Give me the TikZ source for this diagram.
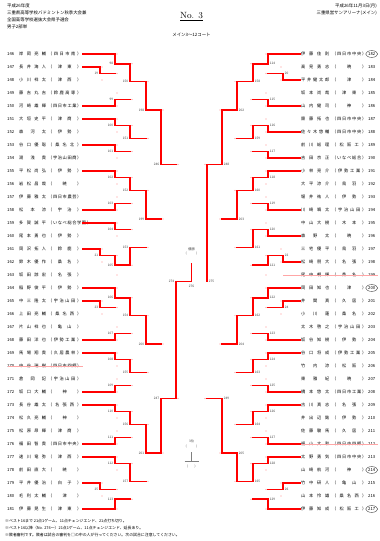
\documentclass[tikz,border=0pt]{standalone}
\usepackage{fontspec}
\newfontfamily\jp{Noto Sans CJK JP}
\usetikzlibrary{calc}
\pgfdeclarelayer{bg}
\pgfsetlayers{bg,main}
\def\cx{191.5}
\def\dP{91.5}\def\dA{76.5}\def\dB{61.5}\def\dC{45.5}\def\dD{30.5}\def\dE{15.5}
\def\Y#1{(54+13*#1)}
\tikzset{
  gl/.style={draw=black!50, line width=0.9pt},
  rl/.style={draw=red, line width=1.6pt, line cap=rect},
  pk/.style={fill=red!45},
  lab/.style={font=\jp\fontsize{3.2}{3.4}\selectfont, text=black!75, inner sep=0.3pt},
  tx/.style={font=\jp\fontsize{4.2}{5}\selectfont, inner sep=0pt},
  hd/.style={font=\jp\fontsize{4.4}{5}\selectfont, inner sep=0pt},
}
% match: #1 side, #2 d vertical, #3 d next, #4 y1, #5 y2, #6 winner, #7 label, #8 name
\newcommand\mt[8]{%
  \pgfmathsetmacro\qX{\cx+(#1)*(#2)}%
  \pgfmathsetmacro\qN{\cx+(#1)*(#3)}%
  \pgfmathsetmacro\qA{#4}%
  \pgfmathsetmacro\qB{#5}%
  \pgfmathsetmacro\qM{(\qA+\qB)/2}%
  \expandafter\xdef\csname m#8\endcsname{\qM}%
  \begin{pgfonlayer}{bg}\draw[gl] (\qX,\qA) -- (\qX,\qB);\end{pgfonlayer}
  \ifnum#6=1 \edef\qW{\qA}\else\edef\qW{\qB}\fi
  \draw[rl] (\qX,\qW) -- (\qX,\qM) -- (\qN,\qM);
  \ifnum#1<0 \def\qAnc{east}\else\def\qAnc{west}\fi
  \node[lab,anchor=\qAnc] (n#8) at ({\qX+(#1)*1.4},\qM) {#7};
  \fill[pk] ({\qX-(#1)*2},\qA) circle (0.6);
  \fill[pk] ({\qX-(#1)*2},\qB) circle (0.6);
}
% player line: #1 side, #2 k, #3 d first, #4 win
\newcommand\pl[4]{%
  \pgfmathsetmacro\qY{54+13*#2}%
  \pgfmathsetmacro\qS{\cx+(#1)*108.5}%
  \pgfmathsetmacro\qE{\cx+(#1)*(#3)}%
  \ifnum#4=1 \draw[rl] (\qS,\qY) -- (\qE,\qY);\else
  \begin{pgfonlayer}{bg}\draw[gl] (\qS,\qY) -- (\qE,\qY);\end{pgfonlayer}\fi
}
\newcommand\rL[4]{%
  \pgfmathsetmacro\qY{54+13*#1}%
  \node[tx,anchor=west] (pl#2) at (7,\qY) {#2};
  \node[tx,anchor=west] at (19,\qY) {\makebox[27pt][s]{#3}};
  \node[tx,anchor=west] at (48,\qY) {\makebox[33pt][s]{（ #4 ）}};
}
\newcommand\rR[4]{%
  \pgfmathsetmacro\qY{54+13*#1}%
  \node[tx,anchor=west] at (301,\qY) {\makebox[28pt][s]{#3}};
  \node[tx,anchor=west] at (332,\qY) {\makebox[34pt][s]{（ #4 ）}};
  \node[tx,anchor=west] (pr#2) at (368,\qY) {#2};
}
\begin{document}
\begin{tikzpicture}[x=1pt,y=-1pt]
\useasboundingbox (0,0) rectangle (380,541);
\fill[white] (0,0) rectangle (380,541);
% header
\node[hd,anchor=west] at (7,6) {平成26年度};
\node[hd,anchor=west] at (7,13) {三重県高等学校バドミントン秋季大会兼};
\node[hd,anchor=west] at (7,20) {全国高等学校選抜大会県予選会};
\node[hd,anchor=west] at (7,27) {男子2部単};
\node[hd,anchor=east] at (377,6) {平成26年11月3日(月)};
\node[hd,anchor=east] at (377,13) {三重県営サンアリーナ(メイン)};
\node[inner sep=0pt,font=\fontsize{9}{10}\selectfont] (title) at (191.5,17) {\underline{No. 3}};
\node[hd] at (191.5,35) {メイン3〜12コート};
% left rows
\rL{0}{146}{岸 岡 亮 輔}{四 日 市 南}
\rL{1}{147}{長 井 海 人}{津 東}
\rL{2}{148}{小 川 祥 太}{津 西}
\rL{3}{149}{藤 吉 丸 吉}{鈴 鹿 高 専}
\rL{4}{150}{河 崎 雄 輝}{四 日 市 工 業}
\rL{5}{151}{大 垣 史 平}{津 商}
\rL{6}{152}{森 河 太}{伊 勢}
\rL{7}{153}{谷 口 優 聡}{桑 名 北}
\rL{8}{154}{湯 浅 貴}{宇 治 山 田 商}
\rL{9}{155}{平 松 尚 弘}{伊 勢}
\rL{10}{156}{岩 松 昌 哉}{暁}
\rL{11}{157}{伊 藤 雅 太}{四 日 市 農 芸}
\rL{12}{158}{松 本 涼}{宇 治}
\rL{13}{159}{多 賀 誠 平}{い な べ 総 合 学 園}
\rL{14}{160}{尾 本 勇 也}{伊 勢}
\rL{15}{161}{岡 沢 拓 人}{鈴 鹿}
\rL{16}{162}{鈴 木 優 作}{桑 名}
\rL{17}{163}{坂 田 諒 宏}{名 張}
\rL{18}{164}{稲 野 俊 平}{伊 勢}
\rL{19}{165}{中 三 隆 太}{宇 治 山 田}
\rL{20}{166}{上 田 亮 輔}{桑 名 西}
\rL{21}{167}{片 山 祥 也}{亀 山}
\rL{22}{168}{藤 田 洋 也}{伊 勢 工 業}
\rL{23}{169}{馬 場 翔 貴}{久 居 農 林}
\rL{24}{170}{中 谷 瑞 樹}{四 日 市 四 郷}
\rL{25}{171}{倉 岡 記}{宇 治 山 田}
\rL{26}{172}{坂 口 大 輔}{神}
\rL{27}{173}{長 谷 雄 太}{名 張 西}
\rL{28}{174}{松 久 亮 輔}{神}
\rL{29}{175}{松 原 昂 輝}{津 商}
\rL{30}{176}{福 田 智 貴}{四 日 市 中 央}
\rL{31}{177}{速 川 竜 弥}{津 西}
\rL{32}{178}{前 田 直 大}{暁}
\rL{33}{179}{平 井 優 治}{白 子}
\rL{34}{180}{毛 利 太 輔}{津}
\rL{35}{181}{伊 藤 晃 生}{津 東}
% right rows
\rR{0}{182}{伊 藤 佳 則}{四 日 市 中 央}
\rR{1}{183}{高 見 勇 志}{暁}
\rR{2}{184}{平 井 健 太 郎}{津}
\rR{3}{185}{坂 本 尚 哉}{津 東}
\rR{4}{186}{山 内 健 司}{神}
\rR{5}{187}{齋 藤 拓 也}{四 日 市 中 央}
\rR{6}{188}{佐 々 木 悠 輔}{四 日 市 中 央}
\rR{7}{189}{前 川 総 理}{松 阪 工}
\rR{8}{190}{吉 田 京 正}{い な べ 総 合}
\rR{9}{191}{小 林 亮 介}{伊 勢 工 業}
\rR{10}{192}{大 平 涼 介}{鳥 羽}
\rR{11}{193}{堀 井 祐 人}{伊 勢}
\rR{12}{194}{川 崎 颯 太}{宇 治 山 田}
\rR{13}{195}{中 山 大 樹}{木 本}
\rR{14}{196}{森 野 太}{暁}
\rR{15}{197}{三 宅 優 平}{鳥 羽}
\rR{16}{198}{松 崎 朋 大}{名 張}
\rR{17}{199}{尾 中 朝 輝}{桑 名}
\rR{18}{200}{岡 田 知 也}{津}
\rR{19}{201}{井 関 真}{久 居}
\rR{20}{202}{小 川 蓮}{桑 名}
\rR{21}{203}{太 木 啓 之}{宇 治 山 田}
\rR{22}{204}{坂 谷 知 樹}{伊 勢}
\rR{23}{205}{谷 口 将 成}{伊 勢 工 業}
\rR{24}{206}{竹 内 涼}{松 阪}
\rR{25}{207}{東 雅 紀}{暁}
\rR{26}{208}{橋 本 悠 太}{四 日 市 工 業}
\rR{27}{209}{古 川 真 志}{名 張}
\rR{28}{210}{井 出 辺 銘}{伊 勢}
\rR{29}{211}{佐 藤 駿 馬}{久 居}
\rR{30}{212}{福 山 大 和}{四 日 市 四 郷}
\rR{31}{213}{太 野 勇 気}{四 日 市 中 央}
\rR{32}{214}{山 崎 航 河}{神}
\rR{33}{215}{竹 中 研 人}{亀 山}
\rR{34}{216}{山 本 怜 雄}{桑 名 西}
\rR{35}{217}{伊 藤 知 成}{松 阪 工}
% circled numbers
\foreach \n in {182,200,214,217} \draw[black!75,line width=0.4pt] ($(pr\n.center)$) ellipse (6 and 3.4);
% pink strike lines
\draw[red!35,line width=0.9pt] (8,{54+13*24}) -- (83,{54+13*24});
\draw[red!35,line width=0.9pt] (283,{54+13*17}) -- (378,{54+13*17});
\draw[red!35,line width=0.9pt] (270,{54+13*30}) -- (378,{54+13*30});
% player lines left
\foreach \k/\d/\w in {0/\dA/1,1/\dP/1,2/\dP/0,3/\dA/0,4/\dA/1,5/\dA/1,6/\dA/0,7/\dA/1,8/\dA/0,
 9/\dA/1,10/\dA/0,11/\dA/0,12/\dA/1,13/\dA/1,14/\dA/0,15/\dP/1,16/\dP/0,17/\dA/0,
 18/\dA/1,19/\dP/1,20/\dP/0,21/\dA/0,22/\dA/1,23/\dA/1,24/\dA/0,25/\dA/0,26/\dA/1,
 27/\dA/1,28/\dA/0,29/\dA/0,30/\dA/1,31/\dA/1,32/\dA/0,33/\dP/1,34/\dP/0,35/\dA/1}
 {\pl{-1}{\k}{\d}{\w}}
% player lines right
\foreach \k/\d/\w in {0/\dA/1,1/\dP/0,2/\dP/1,3/\dA/0,4/\dA/1,5/\dA/0,6/\dA/1,7/\dA/0,8/\dA/1,
 9/\dA/1,10/\dA/0,11/\dA/0,12/\dA/1,13/\dA/0,14/\dA/1,15/\dP/0,16/\dP/1,17/\dA/0,
 18/\dA/1,19/\dP/1,20/\dP/0,21/\dA/0,22/\dA/1,23/\dA/1,24/\dA/0,25/\dA/0,26/\dA/1,
 27/\dA/1,28/\dA/0,29/\dA/0,30/\dA/1,31/\dA/1,32/\dA/0,33/\dP/1,34/\dP/0,35/\dA/1}
 {\pl{1}{\k}{\d}{\w}}
% left matches
\mt{-1}{\dP}{\dA}{\Y{1}}{\Y{2}}{1}{19}{LPa}
\mt{-1}{\dA}{\dB}{\Y{0}}{\mLPa}{1}{98}{LAa}
\mt{-1}{\dA}{\dB}{\Y{3}}{\Y{4}}{2}{99}{LAb}
\mt{-1}{\dB}{\dC}{\mLAa}{\mLAb}{1}{150}{LAc}
\mt{-1}{\dA}{\dB}{\Y{5}}{\Y{6}}{1}{100}{LBa}
\mt{-1}{\dA}{\dB}{\Y{7}}{\Y{8}}{1}{101}{LBb}
\mt{-1}{\dB}{\dC}{\mLBa}{\mLBb}{1}{151}{LBc}
\mt{-1}{\dC}{\dD}{\mLAc}{\mLBc}{1}{198}{LC}
\mt{-1}{\dA}{\dB}{\Y{9}}{\Y{10}}{1}{102}{LDa}
\mt{-1}{\dA}{\dB}{\Y{11}}{\Y{12}}{2}{103}{LDb}
\mt{-1}{\dB}{\dC}{\mLDa}{\mLDb}{1}{152}{LDc}
\mt{-1}{\dA}{\dB}{\Y{13}}{\Y{14}}{1}{104}{LEa}
\mt{-1}{\dP}{\dA}{\Y{15}}{\Y{16}}{1}{21}{LPb}
\mt{-1}{\dA}{\dB}{\mLPb}{\Y{17}}{1}{105}{LEb}
\mt{-1}{\dB}{\dC}{\mLEa}{\mLEb}{2}{153}{LEc}
\mt{-1}{\dC}{\dD}{\mLDc}{\mLEc}{1}{199}{LF}
\mt{-1}{\dD}{\dE}{\mLC}{\mLF}{1}{246}{LG}
\mt{-1}{\dP}{\dA}{\Y{19}}{\Y{20}}{1}{23}{LPc}
\mt{-1}{\dA}{\dB}{\Y{18}}{\mLPc}{1}{106}{LHa}
\mt{-1}{\dA}{\dB}{\Y{21}}{\Y{22}}{2}{107}{LHb}
\mt{-1}{\dB}{\dC}{\mLHa}{\mLHb}{1}{154}{LHc}
\mt{-1}{\dA}{\dB}{\Y{23}}{\Y{24}}{1}{108}{LIa}
\mt{-1}{\dA}{\dB}{\Y{25}}{\Y{26}}{2}{109}{LIb}
\mt{-1}{\dB}{\dC}{\mLIa}{\mLIb}{1}{155}{LIc}
\mt{-1}{\dC}{\dD}{\mLHc}{\mLIc}{1}{200}{LJ}
\mt{-1}{\dA}{\dB}{\Y{27}}{\Y{28}}{1}{110}{LKa}
\mt{-1}{\dA}{\dB}{\Y{29}}{\Y{30}}{2}{111}{LKb}
\mt{-1}{\dB}{\dC}{\mLKa}{\mLKb}{1}{156}{LKc}
\mt{-1}{\dA}{\dB}{\Y{31}}{\Y{32}}{1}{112}{LLa}
\mt{-1}{\dP}{\dA}{\Y{33}}{\Y{34}}{1}{25}{LPd}
\mt{-1}{\dA}{\dB}{\mLPd}{\Y{35}}{2}{113}{LLb}
\mt{-1}{\dB}{\dC}{\mLLa}{\mLLb}{1}{157}{LLc}
\mt{-1}{\dC}{\dD}{\mLKc}{\mLLc}{1}{201}{LM}
\mt{-1}{\dD}{\dE}{\mLJ}{\mLM}{2}{247}{LN}
\mt{-1}{\dE}{\dE}{\mLG}{\mLN}{2}{274}{LS}
% right matches
\mt{1}{\dP}{\dA}{\Y{1}}{\Y{2}}{2}{20}{RPa}
\mt{1}{\dA}{\dB}{\Y{0}}{\mRPa}{1}{114}{RAa}
\mt{1}{\dA}{\dB}{\Y{3}}{\Y{4}}{2}{115}{RAb}
\mt{1}{\dB}{\dC}{\mRAa}{\mRAb}{1}{158}{RAc}
\mt{1}{\dA}{\dB}{\Y{5}}{\Y{6}}{2}{116}{RBa}
\mt{1}{\dA}{\dB}{\Y{7}}{\Y{8}}{2}{117}{RBb}
\mt{1}{\dB}{\dC}{\mRBa}{\mRBb}{1}{159}{RBc}
\mt{1}{\dC}{\dD}{\mRAc}{\mRBc}{1}{202}{RC}
\mt{1}{\dA}{\dB}{\Y{9}}{\Y{10}}{1}{118}{RDa}
\mt{1}{\dA}{\dB}{\Y{11}}{\Y{12}}{2}{119}{RDb}
\mt{1}{\dB}{\dC}{\mRDa}{\mRDb}{1}{160}{RDc}
\mt{1}{\dA}{\dB}{\Y{13}}{\Y{14}}{2}{120}{REa}
\mt{1}{\dP}{\dA}{\Y{15}}{\Y{16}}{2}{22}{RPb}
\mt{1}{\dA}{\dB}{\mRPb}{\Y{17}}{1}{121}{REb}
\mt{1}{\dB}{\dC}{\mREa}{\mREb}{1}{161}{REc}
\mt{1}{\dC}{\dD}{\mRDc}{\mREc}{1}{203}{RF}
\mt{1}{\dD}{\dE}{\mRC}{\mRF}{1}{248}{RG}
\mt{1}{\dP}{\dA}{\Y{19}}{\Y{20}}{1}{24}{RPc}
\mt{1}{\dA}{\dB}{\Y{18}}{\mRPc}{1}{122}{RHa}
\mt{1}{\dA}{\dB}{\Y{21}}{\Y{22}}{2}{123}{RHb}
\mt{1}{\dB}{\dC}{\mRHa}{\mRHb}{1}{162}{RHc}
\mt{1}{\dA}{\dB}{\Y{23}}{\Y{24}}{1}{124}{RIa}
\mt{1}{\dA}{\dB}{\Y{25}}{\Y{26}}{2}{125}{RIb}
\mt{1}{\dB}{\dC}{\mRIa}{\mRIb}{1}{163}{RIc}
\mt{1}{\dC}{\dD}{\mRHc}{\mRIc}{1}{204}{RJ}
\mt{1}{\dA}{\dB}{\Y{27}}{\Y{28}}{1}{126}{RKa}
\mt{1}{\dA}{\dB}{\Y{29}}{\Y{30}}{2}{127}{RKb}
\mt{1}{\dB}{\dC}{\mRKa}{\mRKb}{1}{164}{RKc}
\mt{1}{\dA}{\dB}{\Y{31}}{\Y{32}}{1}{128}{RLa}
\mt{1}{\dP}{\dA}{\Y{33}}{\Y{34}}{1}{26}{RPd}
\mt{1}{\dA}{\dB}{\mRPd}{\Y{35}}{2}{129}{RLb}
\mt{1}{\dB}{\dC}{\mRLa}{\mRLb}{1}{165}{RLc}
\mt{1}{\dC}{\dD}{\mRKc}{\mRLc}{2}{205}{RM}
\mt{1}{\dD}{\dE}{\mRJ}{\mRM}{2}{249}{RN}
\mt{1}{\dE}{\dE}{\mRG}{\mRN}{1}{275}{RS}
% final
\coordinate (fl) at (\cx-\dE,\mLS);
\coordinate (fr) at (\cx+\dE,\mLS);
\coordinate (fc) at (\cx,\mLS);
\coordinate (champ) at (\cx,264);
\begin{pgfonlayer}{bg}\draw[gl] (fl) -- (fr);\end{pgfonlayer}
\draw[rl] (fl) -- (fc) -- (champ);
\node[lab,anchor=north] (m276) at ($(fc)+(0,3)$) {276};
\node[lab] (win1) at (\cx,249) {優勝};
\node[lab] (win2) at (\cx,254) {(　　　)};
% bottom centre small mark
\node[lab] (b1) at (\cx,441) {3位};
\node[lab] (b2) at (\cx,446) {(　　　)};
\coordinate (b3) at (\cx,452);
\coordinate (b4) at (\cx,461);
\draw[gl,line width=0.6pt] (b3) -- (b4);
\draw[gl,line width=0.6pt] ($(b4)+(-7,0)$) -- ($(b4)+(7,0)$);
\node[lab] (b5) at (\cx,466) {(　　)};
% footnotes
\node[hd,anchor=west,font=\jp\fontsize{3.9}{4.5}\selectfont] at (5,521) {※ベスト16まで 21点1ゲーム、11点チェンジエンド、21点打ち切り。};
\node[hd,anchor=west,font=\jp\fontsize{3.9}{4.5}\selectfont] at (5,528) {※ベスト16以降（No. 274〜）21点1ゲーム、11点チェンジエンド、延長あり。};
\node[hd,anchor=west,font=\jp\fontsize{3.9}{4.5}\selectfont] at (5,535) {※敗者審判です。敗者は試合の審判を□の中の人が行ってください。次の試合に注意してください。};
\end{tikzpicture}
\end{document}
